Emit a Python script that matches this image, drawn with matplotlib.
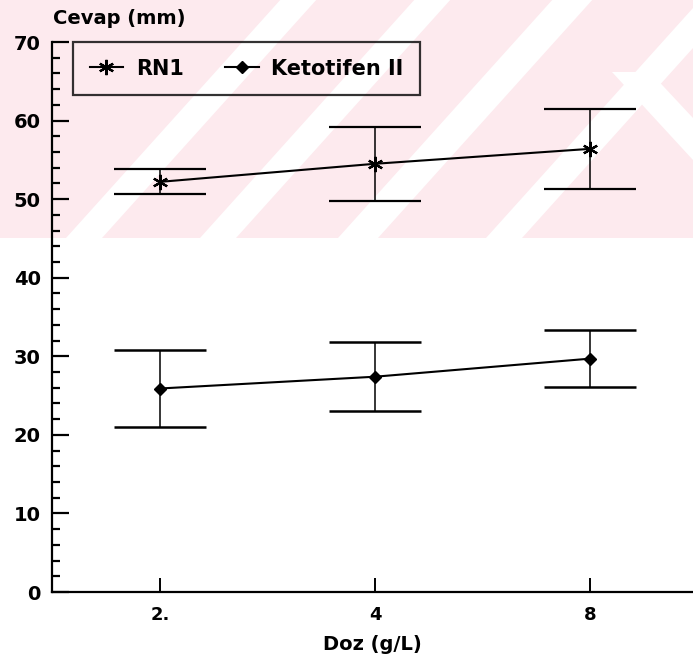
import matplotlib
matplotlib.use("Agg")
import matplotlib.pyplot as plt
from matplotlib.lines import Line2D
from matplotlib.patches import Polygon
from matplotlib.ticker import MultipleLocator

# data
doses = ["2.", "4", "8"]
rn1_mean = [52.2, 54.5, 56.4]
rn1_err = [1.6, 4.7, 5.1]
keto_mean = [25.9, 27.4, 29.7]
keto_err = [4.9, 4.4, 3.6]
series_names = ["RN1", "Ketotifen II"]

plt.rcParams["font.family"] = ["DejaVu Sans"]
plt.rcParams["font.weight"] = "bold"

W, H = 693, 669
fig = plt.figure(figsize=(W / 100, H / 100), dpi=100)

# faint pink watermark band at the top (pixel coordinates, y down)
bg = fig.add_axes([0, 0, 1, 1], zorder=0)
bg.set_xlim(0, W)
bg.set_ylim(H, 0)
bg.set_axis_off()
band_h = 238
pink = "#fdeaee"
bg.add_patch(Polygon([(0, 0), (W, 0), (W, band_h), (0, band_h)], closed=True,
                     facecolor=pink, edgecolor="none"))
slope = 0.9
for x0, w in [(66, 36), (200, 36), (338, 40), (486, 36)]:
    pts = [(x0, band_h), (x0 + w, band_h),
           (x0 + w + slope * band_h, 0), (x0 + slope * band_h, 0)]
    bg.add_patch(Polygon(pts, closed=True, facecolor="white", edgecolor="none"))
bg.add_patch(Polygon([(612, 72), (650, 72), (693, 118), (693, 160)],
                     closed=True, facecolor="white", edgecolor="none"))

ax = fig.add_axes([52 / W, 77 / H, 1 - 52 / W, (592 - 42) / H], zorder=1)
ax.set_facecolor("none")

x = [1, 2, 3]
ax.errorbar(x, rn1_mean, yerr=rn1_err, color="black", linewidth=1.5,
            elinewidth=1.1, capsize=33, capthick=1.8,
            marker=(6, 2, 0), markersize=11, markeredgewidth=1.6)
ax.errorbar(x, keto_mean, yerr=keto_err, color="black", linewidth=1.5,
            elinewidth=1.1, capsize=33, capthick=1.8,
            marker="D", markersize=6)

ax.set_xlim(0.498, 3.479)
ax.set_ylim(0, 70)
ax.set_xticks(x)
ax.set_xticklabels(doses)
ax.yaxis.set_major_locator(MultipleLocator(10))
ax.yaxis.set_minor_locator(MultipleLocator(2))

for side in ["top", "right"]:
    ax.spines[side].set_visible(False)
for side in ["left", "bottom"]:
    ax.spines[side].set_linewidth(1.6)

ax.tick_params(axis="y", which="major", direction="in", length=12, width=1.6,
               pad=8, labelsize=14)
ax.tick_params(axis="y", which="minor", direction="in", length=6, width=1.6)
ax.tick_params(axis="x", which="major", direction="in", length=10, width=1.4,
               pad=10, labelsize=13)

ax.set_xlabel("Doz (g/L)", fontsize=14, fontweight="bold", labelpad=8)
fig.text(53 / W, 1 - 19 / H, "Cevap (mm)", fontsize=14, fontweight="bold",
         ha="left", va="center")

handles = [
    Line2D([], [], color="black", linewidth=1.5, marker=(6, 2, 0),
           markersize=11, markeredgewidth=1.6),
    Line2D([], [], color="black", linewidth=1.5, marker="D", markersize=6),
]
leg = ax.legend(handles, series_names, loc="upper left",
                bbox_to_anchor=(0.033, 1.0), ncol=2,
                frameon=True, fancybox=False, borderaxespad=0,
                handlelength=1.6, handletextpad=0.6, columnspacing=2.0,
                borderpad=0.8, prop={"size": 15, "weight": "bold"})
leg.get_frame().set_edgecolor("black")
leg.get_frame().set_linewidth(1.6)
leg.get_frame().set_facecolor("none")

fig.savefig("out.png", dpi=100)
